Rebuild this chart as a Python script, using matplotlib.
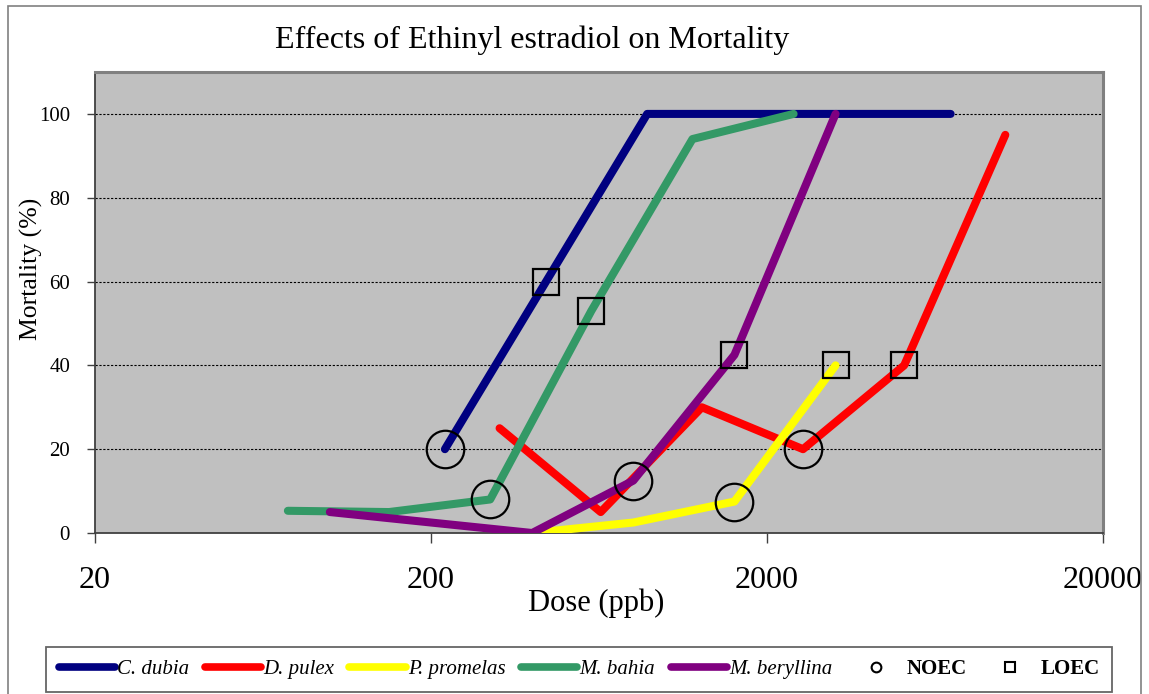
import matplotlib.pyplot as plt
import matplotlib.patches as mpatches
from matplotlib.lines import Line2D
import matplotlib.ticker as mticker

plt.rcParams['font.family'] = ['Liberation Serif', 'DejaVu Serif']

#=========================================#
# data (dose in ppb, mortality in %)
dubia_dose = [220, 440, 880, 1760, 3520, 7040]
dubia_mort = [20, 60, 100, 100, 100, 100]

pulex_dose = [320, 640, 1280, 2560, 5120, 10240]
pulex_mort = [25, 5, 30, 20, 40, 95]

promelas_dose = [400, 800, 1600, 3200]
promelas_mort = [0, 2.5, 7.5, 40]

bahia_dose = [75, 150, 300, 600, 1200, 2400]
bahia_mort = [5.3, 5, 8, 53, 94, 100]

beryllina_dose = [100, 200, 400, 800, 1600, 3200]
beryllina_mort = [5, 2.5, 0, 12.5, 42.5, 100]

noec_dose = [220, 300, 800, 1600, 2560]
noec_mort = [20, 8, 12.5, 7.5, 20]

loec_dose = [440, 600, 1600, 3200, 5120]
loec_mort = [60, 53, 42.5, 40, 40]

x_ticks = [20, 200, 2000, 20000]
y_ticks = [0, 20, 40, 60, 80, 100]
#=========================================#

series = [
    (dubia_dose, dubia_mort, '#000080', 'C. dubia'),
    (pulex_dose, pulex_mort, '#FF0000', 'D. pulex'),
    (promelas_dose, promelas_mort, '#FFFF00', 'P. promelas'),
    (bahia_dose, bahia_mort, '#339966', 'M. bahia'),
    (beryllina_dose, beryllina_mort, '#800080', 'M. beryllina'),
]

fig = plt.figure(figsize=(11.49, 6.94), dpi=100)
ax = fig.add_axes([95/1149, 1 - 533/694, (1103-95)/1149, (533-72)/694])
ax.set_facecolor('#C0C0C0')

for xs, ys, col, lab in series:
    ax.plot(xs, ys, color=col, lw=5.8, solid_capstyle='round',
            solid_joinstyle='round', zorder=3)

ax.plot(noec_dose, noec_mort, 'o', mfc='none', mec='k', ms=27, mew=1.6,
        zorder=4, clip_on=False)
ax.plot(loec_dose, loec_mort, 's', mfc='none', mec='k', ms=19, mew=1.6,
        zorder=4, clip_on=False)

ax.set_xscale('log')
ax.set_xlim(20, 20000)
ax.set_ylim(0, 110)
ax.set_xticks(x_ticks)
ax.xaxis.set_major_formatter(mticker.FixedFormatter([str(v) for v in x_ticks]))
ax.xaxis.set_minor_locator(mticker.NullLocator())
ax.set_yticks(y_ticks)
ax.tick_params(axis='x', direction='out', length=7, width=1, color='#404040',
               labelsize=23, pad=17)
ax.tick_params(axis='y', direction='out', length=6, width=1, color='#404040',
               labelsize=15, pad=12)

for v in y_ticks[1:]:
    ax.axhline(v, color='k', lw=0.8, ls=(0, (2, 1.5)), zorder=1)

for s in ['top', 'right']:
    ax.spines[s].set_color('#808080')
    ax.spines[s].set_linewidth(2.2)
for s in ['left', 'bottom']:
    ax.spines[s].set_color('#404040')
    ax.spines[s].set_linewidth(1.3)

fig.text(532/1149, 1 - 40/694, 'Effects of Ethinyl estradiol on Mortality',
         ha='center', va='center', fontsize=23)
fig.text(596/1149, 1 - 603/694, 'Dose (ppb)', ha='center', va='center',
         fontsize=22)
fig.text(31/1149, 1 - 269/694, 'Mortality (%)', ha='center', va='center',
         rotation=90, fontsize=18.5)

handles = [Line2D([], [], color=col, lw=5.5, solid_capstyle='round')
           for _, _, col, _ in series]
labels = [lab for _, _, _, lab in series]
handles.append(Line2D([], [], ls='none', marker='o', mfc='none', mec='k',
                      ms=7, mew=1.5))
handles.append(Line2D([], [], ls='none', marker='s', mfc='none', mec='k',
                      ms=7, mew=1.5))
labels += ['NOEC', 'LOEC']

leg = fig.legend(handles, labels, loc='center', ncol=7, mode='expand',
                 bbox_to_anchor=(46/1149, 2/694, (1112-46)/1149, 46/694),
                 frameon=True, fancybox=False, edgecolor='#404040',
                 fontsize=15, handlelength=2.7, handletextpad=0.1,
                 borderaxespad=0, columnspacing=0.6, borderpad=0.6)
leg.get_frame().set_linewidth(1.3)
for i, t in enumerate(leg.get_texts()):
    if i < 5:
        t.set_style('italic')
    else:
        t.set_weight('bold')

fig.patches.append(mpatches.Rectangle((8/1149, -0.1), (1141-8)/1149,
                                      1.1 - 6/694, transform=fig.transFigure,
                                      fill=False, edgecolor='#808080', lw=1.2))

plt.savefig('out.png', dpi=100)
